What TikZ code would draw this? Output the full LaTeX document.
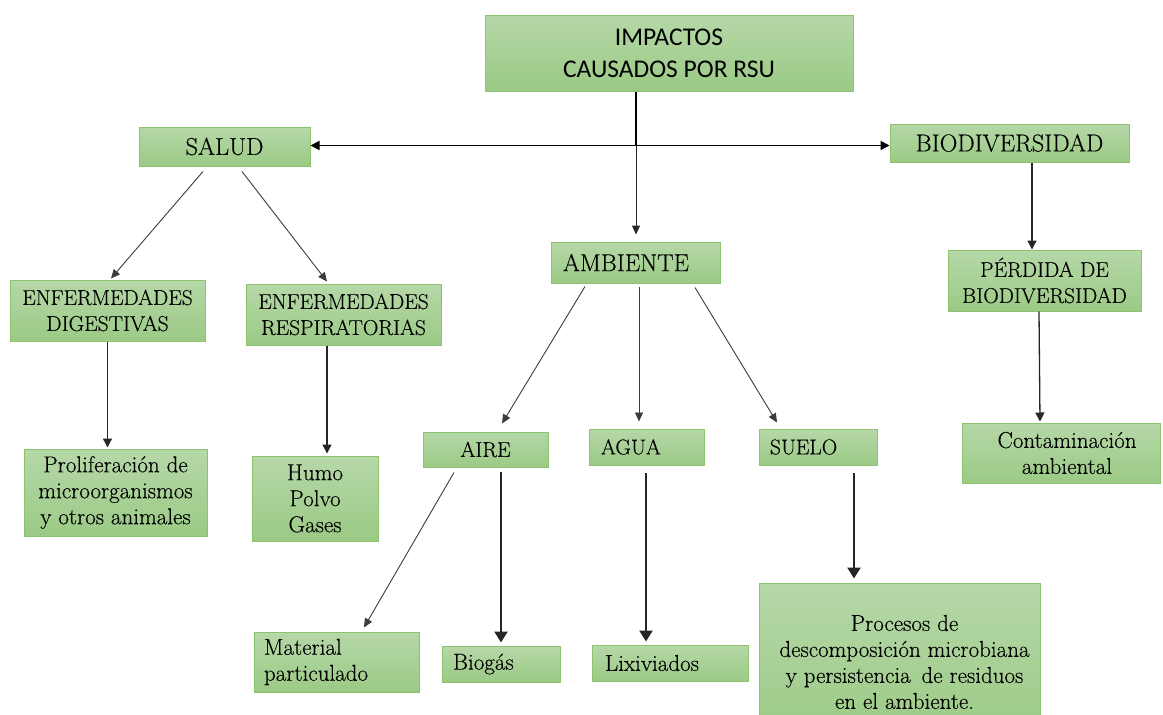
\documentclass[tikz,border=0pt]{standalone}
\usepackage{fontspec}
\setmainfont{Latin Modern Roman}[FakeBold=0.25]
\newfontfamily\titlefont{Carlito}
\usetikzlibrary{arrows.meta,calc}
\definecolor{boxtop}{RGB}{182,216,168}
\definecolor{boxbot}{RGB}{155,202,133}
\definecolor{boxborder}{RGB}{140,195,110}
\definecolor{linegray}{RGB}{60,60,60}
\tikzset{
  box/.style={draw=boxborder, line width=1pt, top color=boxtop, bottom color=boxbot,
    inner sep=0pt, align=center, font=\fontsize{21.5}{26}\selectfont},
  lower/.style={font=\fontsize{23}{26}\selectfont},
  big/.style={font=\fontsize{24.5}{28}\selectfont},
  conn/.style={draw=linegray, line width=0.9pt, -{Triangle[width=8pt,length=9pt]}},
  medconn/.style={draw=black!85, line width=1.3pt, -{Triangle[width=9pt,length=9pt]}},
  bigconn/.style={draw=black!85, line width=2.4pt, -{Triangle[width=13pt,length=11pt]}},
  trunk/.style={draw=black, line width=2pt},
}
\begin{document}
\begin{tikzpicture}[x=1pt,y=-1pt]
\clip (0,0) rectangle (1163,715);
\fill[white] (0,0) rectangle (1163,715);

% boxes
\node[box, minimum width=368pt, minimum height=76pt, font=\titlefont\fontsize{25.5}{32}\selectfont] (imp) at (669,53) {IMPACTOS\\CAUSADOS POR RSU};
\node[box, big, minimum width=171pt, minimum height=39pt] (salud) at (224.5,146.5) {SALUD};
\node[box, big, minimum width=239pt, minimum height=38pt] (bio) at (1009.5,143) {BIODIVERSIDAD};
\node[box, big, minimum width=169pt, minimum height=41pt, text width=145pt, align=left] (amb) at (635.5,262.5) {AMBIENTE};
\node[box, minimum width=195pt, minimum height=61pt] (dig) at (107.5,310.5) {ENFERMEDADES\\DIGESTIVAS};
\node[box, minimum width=195pt, minimum height=61pt] (resp) at (343.5,314.5) {ENFERMEDADES\\RESPIRATORIAS};
\node[box, minimum width=193pt, minimum height=61pt] (perd) at (1044.5,280.5) {PÉRDIDA DE\\BIODIVERSIDAD};
\node[box, lower, minimum width=183pt, minimum height=87pt] (prol) at (115.5,492.5) {Proliferación de\\microorganismos\\y otros animales};
\node[box, lower, minimum width=126pt, minimum height=85pt] (humo) at (315,498.5) {Humo\\Polvo\\Gases};
\node[box, minimum width=125pt, minimum height=35pt] (aire) at (485.5,449.5) {AIRE};
\node[box, minimum width=115pt, minimum height=36pt, text width=91pt, align=left] (agua) at (646.5,447) {AGUA};
\node[box, minimum width=118pt, minimum height=36pt, text width=96pt, align=left] (suelo) at (818,447) {SUELO};
\node[box, lower, minimum width=198pt, minimum height=60pt] (cont) at (1061,453) {\hspace*{12pt}Contaminación\\\hspace*{12pt}ambiental};
\node[box, lower, minimum width=165pt, minimum height=60pt, text width=145pt, align=left] (mat) at (336.5,662) {Material\\particulado};
\node[box, lower, minimum width=118pt, minimum height=36pt, text width=96pt, align=left] (biog) at (501,664) {Biogás};
\node[box, lower, minimum width=156pt, minimum height=36pt, text width=130pt, align=left] (lix) at (670,663) {Lixiviados};
\node[box, lower, minimum width=281pt, minimum height=158pt] (proc) at (899.5,662) {\hspace*{10pt}Procesos de\\\hspace*{10pt}descomposición microbiana\\\hspace*{10pt}y persistencia\, de residuos\\\hspace*{10pt}en el ambiente.};

% top junction
\coordinate (jt) at ($(imp.south)+(-33,0)$);
\coordinate (j) at ($(jt)+(0,54)$);
\draw[trunk] (jt) -- (j);
\draw[trunk, line width=1.7pt, {Triangle[width=9pt,length=9pt]}-{Triangle[width=9pt,length=9pt]}] (salud.east |- j) -- (bio.west |- j);
\draw[conn, draw=black!85, line width=1pt, shorten >=7pt] (j) -- (j |- amb.north);

% SALUD branch
\draw[conn] ($(salud.south)+(-21.5,5)$) -- ($(dig.north)+(3.5,-1)$);
\draw[conn] ($(salud.south)+(17.5,5)$) -- ($(resp.north)+(-16.5,-2)$);
\draw[medconn, shorten >=1pt] (dig.south) -- (dig.south |- prol.north);
\coordinate (rs) at ($(resp.south)+(-16.5,0)$);
\draw[medconn, shorten >=2pt] (rs) -- (rs |- humo.north);

% AMBIENTE branch
\draw[conn] ($(amb.south)+(-50.5,3)$) -- ($(aire.north)+(16.5,-8)$);
\draw[conn] ($(amb.south)+(3.5,3)$) -- ($(agua.north)+(-7.5,-7)$);
\draw[conn] ($(amb.south)+(59.5,4)$) -- ($(suelo.north)+(-41,-6)$);
\draw[conn] ($(aire.south)+(-31.5,5)$) -- ($(mat.north)+(27.5,-4)$);
\coordinate (as) at ($(aire.south)+(15.5,4)$);
\draw[bigconn, shorten >=3pt] (as) -- (as |- biog.north);
\coordinate (gs) at ($(agua.south)+(-0.5,7)$);
\draw[bigconn, shorten >=3pt] (gs) -- (gs |- lix.north);
\coordinate (ss) at ($(suelo.south)+(36,7)$);
\draw[bigconn, shorten >=4pt] (ss) -- (ss |- proc.north);

% BIODIVERSIDAD branch
\coordinate (bs) at ($(bio.south)+(22.5,0)$);
\draw[medconn] (bs) -- (bs |- perd.north);
\draw[medconn] ($(perd.south)+(-5.5,0)$) -- ($(cont.north)+(-21,-1)$);
\end{tikzpicture}
\end{document}
